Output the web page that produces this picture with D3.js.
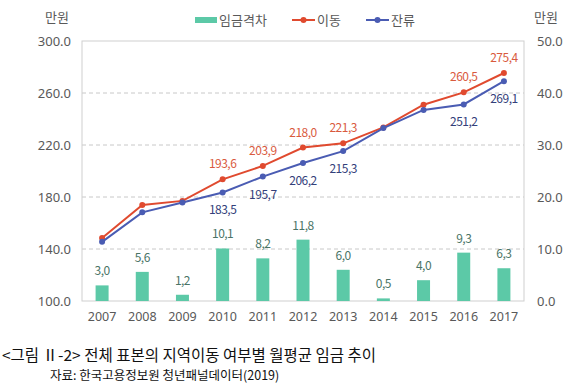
<!DOCTYPE html>
<html><head><meta charset="utf-8">
<script src="https://cdn.jsdelivr.net/npm/d3@7"></script>
<style>body{margin:0;background:#fff;}svg{display:block;font-family:"Noto Sans CJK KR","Noto Sans",sans-serif;}</style>
</head><body>
<svg id="c" width="580" height="390"></svg>
<script>
const years = ["2007","2008","2009","2010","2011","2012","2013","2014","2015","2016","2017"];
const moveVals = [148.5,173.8,177.0,193.6,203.9,218.0,221.3,233.5,251.0,260.5,275.4];
const stayVals = [145.5,168.2,175.8,183.5,195.7,206.2,215.3,233.0,247.0,251.2,269.1];
const gapVals = [3.0,5.6,1.2,10.1,8.2,11.8,6.0,0.5,4.0,9.3,6.3];
const moveLabelShown = [false,false,false,true,true,true,true,false,false,true,true];
const stayLabelShown = [false,false,false,true,true,true,true,false,false,true,true];
const leftTicks = [100,140,180,220,260,300];
const rightTicks = [0,10,20,30,40,50];

const svg = d3.select("#c");
const L=82,R=524,T=41,B=301;
const x = d3.scaleBand().domain(years).range([L,R]);
const yL = d3.scaleLinear().domain([100,300]).range([B,T]);
const yR = d3.scaleLinear().domain([0,50]).range([B,T]);
const fmt = v => v.toFixed(1).replace(".", ",");
const cGreen="#5cc9a7", cRed="#e04a2f", cBlue="#4a5cb3";
const numFont = "'Noto Sans','DejaVu Sans',sans-serif";

// gridlines
svg.append("g").selectAll("line").data(leftTicks.filter(d=>d>100&&d<300)).join("line")
  .attr("x1",L).attr("x2",R).attr("y1",d=>yL(d)).attr("y2",d=>yL(d))
  .attr("stroke","#c8c8c8").attr("stroke-dasharray","4,3").attr("stroke-width",1);
// frame
svg.append("rect").attr("x",L).attr("y",T).attr("width",R-L).attr("height",B-T)
  .attr("fill","none").attr("stroke","#cfcfcf").attr("stroke-width",1);

// axes
const axL = svg.append("g").attr("transform",`translate(${L},0)`)
  .call(d3.axisLeft(yL).tickValues(leftTicks).tickFormat(d=>d.toFixed(1)).tickSize(0).tickPadding(11));
axL.select(".domain").remove();
axL.selectAll("text").attr("font-size",13).attr("fill","#595959").style("font-family",numFont);
const axR = svg.append("g").attr("transform",`translate(${R},0)`)
  .call(d3.axisRight(yR).tickValues(rightTicks).tickFormat(d=>d.toFixed(1)).tickSize(0).tickPadding(13));
axR.select(".domain").remove();
axR.selectAll("text").attr("font-size",13).attr("fill","#595959").style("font-family",numFont);
const axB = svg.append("g").attr("transform",`translate(0,${B})`)
  .call(d3.axisBottom(x).tickSize(0).tickPadding(11));
axB.select(".domain").remove();
axB.selectAll("text").attr("font-size",12.5).attr("fill","#595959").style("font-family",numFont);

// unit labels
svg.append("text").attr("x",57).attr("y",22).attr("text-anchor","middle").attr("font-size",13).attr("fill","#595959").text("만원");
svg.append("text").attr("x",546).attr("y",22).attr("text-anchor","middle").attr("font-size",13).attr("fill","#595959").text("만원");

// bars
const bw = 13;
const cx = i => x(years[i])+x.bandwidth()/2;
svg.append("g").selectAll("rect").data(gapVals).join("rect")
  .attr("x",(d,i)=>cx(i)-bw/2).attr("width",bw)
  .attr("y",d=>yR(d)).attr("height",d=>B-yR(d)).attr("fill",cGreen);
svg.append("g").selectAll("text").data(gapVals).join("text")
  .attr("x",(d,i)=>cx(i)).attr("y",d=>yR(d)-10)
  .attr("text-anchor","middle").attr("font-size",12).attr("fill","#4a7466")
  .attr("letter-spacing","-0.5").text(d=>fmt(d));

// lines
function series(vals,color){
  const line = d3.line().x((d,i)=>cx(i)).y(d=>yL(d));
  svg.append("path").datum(vals).attr("d",line).attr("fill","none").attr("stroke",color).attr("stroke-width",2);
  svg.append("g").selectAll("circle").data(vals).join("circle")
    .attr("cx",(d,i)=>cx(i)).attr("cy",d=>yL(d)).attr("r",3).attr("fill",color);
}
series(moveVals,cRed);
series(stayVals,cBlue);

const mv = moveVals.map((v,i)=>({v,i})).filter(d=>moveLabelShown[d.i]);
svg.append("g").selectAll("text").data(mv).join("text")
  .attr("x",d=>cx(d.i)).attr("y",d=>yL(d.v)-11)
  .attr("text-anchor","middle").attr("font-size",12).attr("fill","#d95a3e").attr("letter-spacing","-0.5")
  .text(d=>fmt(d.v));
const sv = stayVals.map((v,i)=>({v,i})).filter(d=>stayLabelShown[d.i]);
svg.append("g").selectAll("text").data(sv).join("text")
  .attr("x",d=>cx(d.i)).attr("y",d=>yL(d.v)+22)
  .attr("text-anchor","middle").attr("font-size",12).attr("fill","#33407a").attr("letter-spacing","-0.5")
  .text(d=>fmt(d.v));

// legend
const lg = svg.append("g").attr("font-size",13).attr("fill","#595959");
lg.append("rect").attr("x",195).attr("y",17).attr("width",22).attr("height",6).attr("fill",cGreen);
lg.append("text").attr("x",219).attr("y",25).text("임금격차");
lg.append("line").attr("x1",292).attr("x2",315).attr("y1",20).attr("y2",20).attr("stroke",cRed).attr("stroke-width",2);
lg.append("circle").attr("cx",303.5).attr("cy",20).attr("r",3).attr("fill",cRed);
lg.append("text").attr("x",317).attr("y",25).text("이동");
lg.append("line").attr("x1",366).attr("x2",389).attr("y1",20).attr("y2",20).attr("stroke",cBlue).attr("stroke-width",2);
lg.append("circle").attr("cx",377.5).attr("cy",20).attr("r",3).attr("fill",cBlue);
lg.append("text").attr("x",391).attr("y",25).text("잔류");

// caption
svg.append("text").attr("x",2).attr("y",361).attr("font-size",15.5).attr("fill","#111")
  .text("<그림 Ⅱ-2> 전체 표본의 지역이동 여부별 월평균 임금 추이");
svg.append("text").attr("x",50).attr("y",380).attr("font-size",12.5).attr("fill","#111")
  .text("자료: 한국고용정보원 청년패널데이터(2019)");
</script>
</body></html>
